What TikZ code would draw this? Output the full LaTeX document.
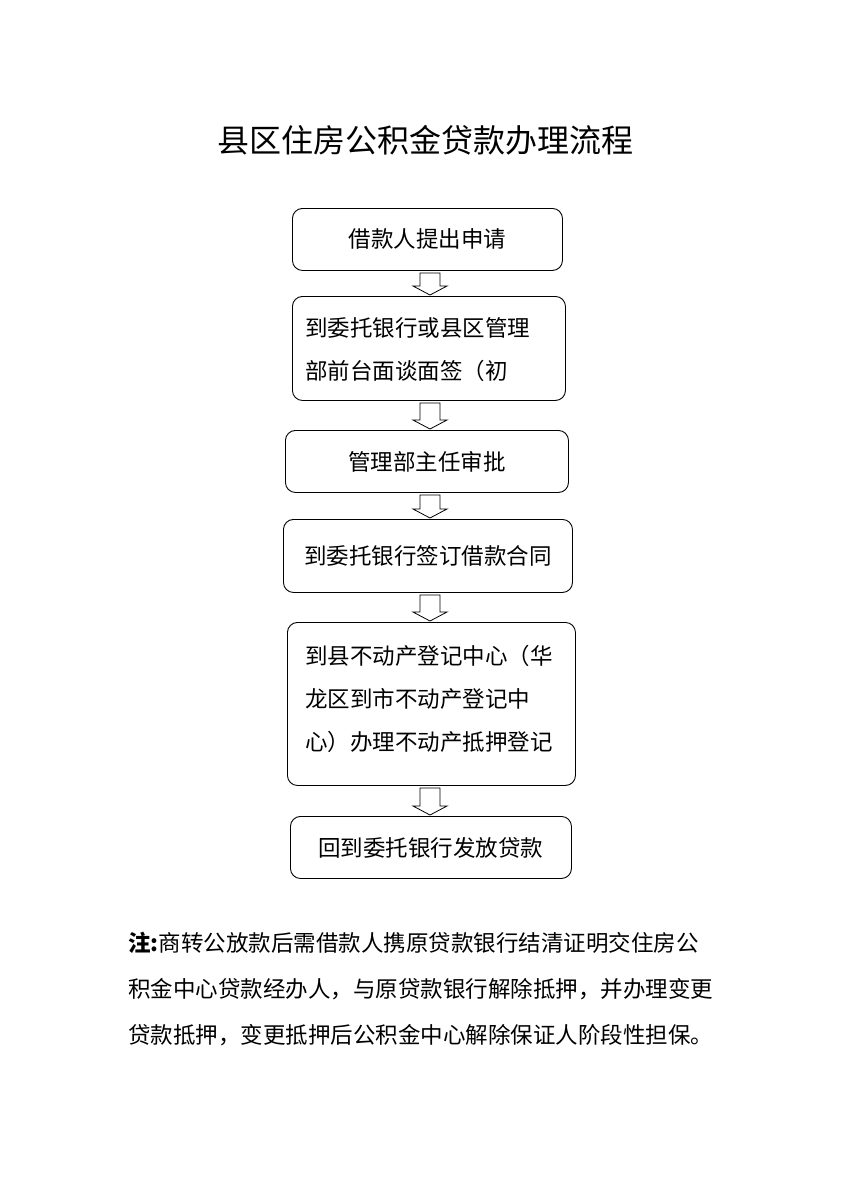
\documentclass[tikz,border=0pt]{standalone}
\usepackage{fontspec}
\setmainfont{Noto Sans CJK SC}
\usetikzlibrary{calc}
\tikzset{box/.style={draw,rounded corners=10pt,line width=0.9pt,anchor=north west,inner sep=0pt},
 btext/.style={font=\fontsize{22.5}{26}\selectfont},
 mtext/.style={anchor=north west,align=left,font=\fontsize{22.5}{43}\selectfont,inner sep=0pt}}
\newcommand\harrow[2]{\path let \p1=(#1.south),\p2=(#2.north) in
 \pgfextra{}[draw,line width=0.8pt] (420pt,\y1-2pt) -- (440pt,\y1-2pt) -- (440pt,\y2+10pt) -- (447pt,\y2+10pt) -- (430pt,\y2+1pt) -- (413pt,\y2+10pt) -- (420pt,\y2+10pt) -- cycle;}
\begin{document}
\begin{tikzpicture}[x=1pt,y=-1pt]
\useasboundingbox[fill=white] (0,0) rectangle (848,1200);
\node (title) at (425,140) {\fontsize{32}{36}\selectfont 县区住房公积金贷款办理流程};
\node[box,minimum width=270pt,minimum height=62pt] (b1) at (292,208) {};
\node[btext] at (b1.center) {借款人提出申请};
\node[box,minimum width=273pt,minimum height=104pt] (b2) at (292,296) {};
\node[mtext] (t2) at (305,317) {到委托银行或县区管理\\部前台面谈面签（初};
\node[box,minimum width=283pt,minimum height=62pt] (b3) at (285,430) {};
\node[btext] at (b3.center) {管理部主任审批};
\node[box,minimum width=289pt,minimum height=73pt] (b4) at (283,519) {};
\node[btext] at (b4.center) {到委托银行签订借款合同};
\node[box,minimum width=288pt,minimum height=163pt] (b5) at (287,622) {};
\node[mtext] (t5) at (305,645) {到县不动产登记中心（华\\龙区到市不动产登记中\\心）办理不动产抵押登记};
\node[box,minimum width=281pt,minimum height=62pt] (b6) at (290,816) {};
\node[btext] at (b6.center) {回到委托银行发放贷款};
\harrow{b1}{b2}
\harrow{b2}{b3}
\harrow{b3}{b4}
\harrow{b4}{b5}
\harrow{b5}{b6}
\node[anchor=north west,align=left,inner sep=0pt,font=\fontsize{22.5}{46}\selectfont] (note) at (128,932) {{\bfseries 注:}商转公放款后需借款人携原贷款银行结清证明交住房公\\积金中心贷款经办人，与原贷款银行解除抵押，并办理变更\\贷款抵押，变更抵押后公积金中心解除保证人阶段性担保。};
\end{tikzpicture}
\end{document}
